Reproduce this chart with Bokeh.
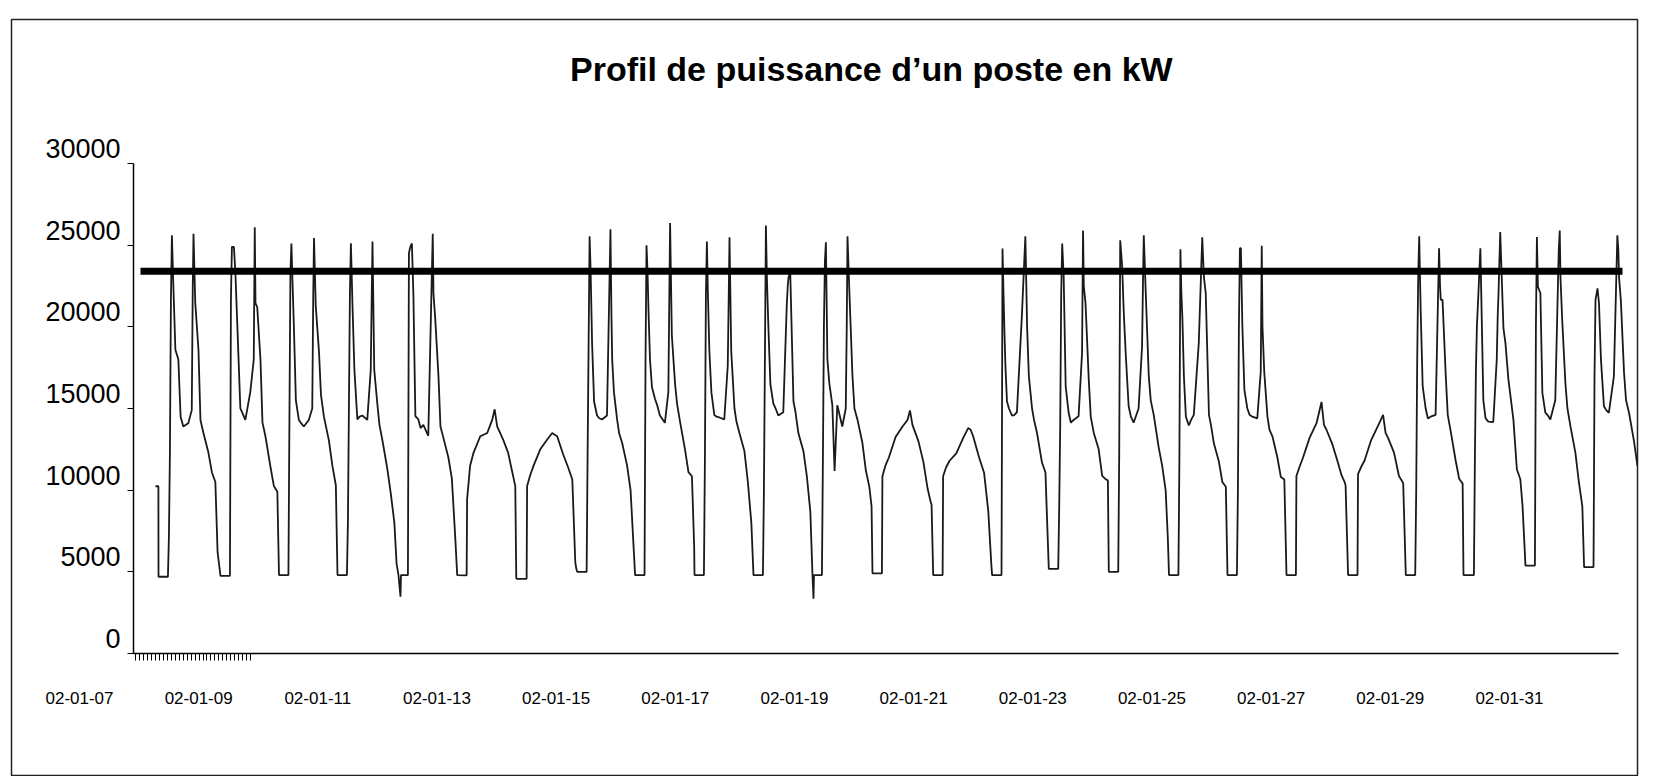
from bokeh.plotting import figure
from bokeh.models import Range1d, LinearAxis, FixedTicker, Label
from bokeh.embed import file_html
from bokeh.resources import INLINE

# ---------------- texts / ticks ----------------
title_text = "Profil de puissance d\u2019un poste en kW"
x_tick_days = [0, 2, 4, 6, 8, 10, 12, 14, 16, 18, 20, 22, 24]   # days after 02-01-07 00:00
x_tick_labels = ["02-01-07", "02-01-09", "02-01-11", "02-01-13", "02-01-15", "02-01-17",
                 "02-01-19", "02-01-21", "02-01-23", "02-01-25", "02-01-27", "02-01-29", "02-01-31"]
y_ticks = [0, 5000, 10000, 15000, 20000, 25000, 30000]

# ---------------- threshold series (thick line) ----------------
seuil_days = [1.024, 25.898]
seuil_kw = [23400, 23400]

# ---------------- power profile (kW) ----------------
# first samples before the first night trough
pre_days = [1.2756, 1.3243]
pre_kw = [10240, 10240]

# short downward dips at the start of two night troughs
dip_days = [5.3877, 5.3960, 12.3196, 12.3280]
dip_kw = [3480, 4800, 3350, 4800]

# start of each day's night trough (days after 02-01-07 00:00, read on the axis)
day_start = [1.3260, 2.3666, 3.3484, 4.3303, 5.3541, 6.3394, 7.3464, 8.3535, 9.3253, 10.3223,
             11.3125, 12.3028, 13.3098, 14.3286, 15.3172, 16.2689, 17.2760, 18.2863, 19.2682,
             20.2585, 21.2924, 22.2609, 23.2293, 24.2699, 25.2535]
day_kind = ["wk", "wk", "wk", "wk", "wk", "we", "we",
            "wk", "wk", "wk", "wk", "wk", "we", "we",
            "wk", "wk", "wk", "wk", "wk", "we", "we",
            "wk", "wk", "wk", "wk"]

# hours after the trough start at which the values below are read
wk_hours = [0, 3.8, 4.2, 4.6, 5.0, 5.4, 6.0, 6.8, 8.0, 8.9, 10.0, 12.0, 13.4, 13.8, 14.1,
            14.8, 16.1, 16.9, 18.1, 20.1, 21.5, 22.9, 23.8]
we_hours = [0, 3.8, 4.0, 5.2, 6.6, 9.3, 12.1, 14.1, 15.1, 16.1, 18.5, 20.5, 22.2, 23.4, 23.8]

day01 = [4700, 4700, 7200, 12300, 21650, 25600, 22450, 18600, 18000, 14500, 13900, 14100, 14900, 22450, 25700, 21500, 18600, 14300, 13500, 12300, 11100, 10500, 6200]
day02 = [4750, 4750, 21650, 24900, 24900, 24900, 23300, 20000, 15000, 14700, 14300, 16000, 18000, 26100, 21450, 21200, 18000, 14150, 13300, 11450, 10250, 9900, 5100]
day03 = [4800, 4800, 14300, 23300, 25100, 23000, 20000, 15500, 14300, 14100, 13900, 14300, 15000, 22000, 25440, 21300, 18500, 15850, 14500, 13050, 11500, 10300, 9760]
day04 = [4800, 4800, 8000, 15000, 22000, 25120, 21500, 17400, 14330, 14500, 14570, 14300, 17380, 22000, 25220, 17380, 15200, 14000, 13050, 11280, 9760, 8020, 5500]
day05 = [4800, 4800, 24500, 24800, 25000, 25100, 22000, 14530, 14330, 13800, 14000, 13330, 23000, 25700, 22000, 20500, 17000, 13900, 13200, 12000, 10700, 7000, 5000]
day06 = [4800, 4780, 9450, 11500, 12300, 13300, 13500, 14300, 14950, 13900, 13100, 12300, 11100, 10250, 4600]
day07 = [4570, 4570, 10250, 10900, 11500, 12500, 13100, 13500, 13400, 13300, 12200, 11400, 10650, 5600, 5200]
day08 = [5000, 5000, 12300, 19000, 25550, 23500, 19000, 15430, 14570, 14400, 14330, 14570, 25980, 20670, 18000, 16000, 14300, 13480, 12900, 11500, 10000, 6000, 5000]
day09 = [4800, 4800, 18000, 25000, 23400, 21000, 18000, 16300, 15600, 15200, 14570, 14120, 16000, 22000, 26350, 19500, 16500, 15300, 14200, 12500, 11100, 10850, 6520]
day10 = [4800, 4800, 12000, 22000, 25220, 22000, 18500, 16000, 14600, 14500, 14450, 14330, 17620, 22000, 25490, 18500, 15000, 14200, 13500, 12400, 10500, 8000, 6000]
day11 = [4800, 4800, 10000, 18000, 26200, 23000, 20000, 16500, 15300, 15000, 14570, 14770, 21300, 22500, 23000, 23370, 15430, 14800, 13480, 12400, 10850, 8680, 8200]
day12 = [4800, 4800, 12000, 20000, 24000, 25180, 18000, 16520, 15200, 11180, 15200, 13900, 15000, 20000, 25550, 22390, 17000, 15000, 14330, 12900, 11200, 10200, 9000]
day13 = [4900, 4900, 10850, 11500, 12000, 13250, 13900, 14300, 14880, 14000, 13000, 11730, 10100, 9300, 9100]
day14 = [4800, 4800, 10850, 11400, 11800, 12250, 13200, 13800, 13700, 13300, 12000, 11070, 8700, 5500, 4900]
day15 = [4800, 4800, 24790, 22000, 19570, 17500, 15430, 15000, 14570, 14600, 14770, 20670, 25550, 22450, 20000, 17000, 15000, 14300, 13500, 11690, 11080, 5200, 5180]
day16 = [5180, 5180, 9000, 14000, 22000, 25100, 23070, 16360, 14740, 14130, 14300, 14530, 18400, 25900, 22500, 21440, 16770, 14500, 13520, 12500, 10870, 10670, 10600]
day17 = [5000, 5000, 12300, 25300, 24500, 23680, 21000, 18400, 15140, 14500, 14130, 15000, 18800, 23000, 25610, 22450, 17000, 15500, 14610, 12620, 11500, 10000, 7000]
day18 = [4800, 4800, 12000, 24750, 22000, 20550, 17000, 14500, 13960, 14300, 14610, 19000, 25480, 24000, 23000, 22070, 14610, 14000, 12850, 11750, 10500, 10210, 6000]
day19 = [4800, 4800, 10000, 20000, 24810, 24810, 20000, 16160, 15000, 14610, 14500, 14390, 17260, 24970, 20000, 17260, 14500, 13710, 13300, 12000, 10800, 10650, 10600]
day20 = [4800, 4800, 10870, 11400, 11970, 13200, 14100, 15400, 14000, 13700, 12800, 11800, 10900, 10500, 10300]
day21 = [4800, 4800, 10980, 11400, 11800, 13070, 13950, 14610, 13510, 13200, 12300, 10870, 10430, 4800, 4800]
day22 = [4800, 4800, 10000, 18000, 23000, 25550, 21000, 16370, 15000, 14390, 14500, 14610, 24810, 22500, 21650, 21650, 17000, 14610, 13600, 11800, 10700, 10400, 5500]
day23 = [4800, 4800, 4800, 12000, 17260, 20000, 22000, 24810, 15490, 14390, 14200, 14170, 18000, 20750, 22000, 25810, 19900, 19000, 16770, 14330, 11280, 10670, 9000]
day24 = [5380, 5380, 20000, 25500, 22450, 22300, 22070, 15960, 14740, 14600, 14330, 15500, 24700, 25900, 23000, 20400, 16500, 15000, 13920, 12300, 10500, 9000, 5300]
day25 = [5290, 5290, 17000, 21650, 22000, 22360, 21460, 17990, 15140, 14900, 14740, 16970, 25610, 24700, 23000, 21650, 17180, 15500, 14740, 13000, 11480]

days_kw = [day01, day02, day03, day04, day05, day06, day07, day08, day09, day10, day11, day12, day13,
           day14, day15, day16, day17, day18, day19, day20, day21, day22, day23, day24, day25]

# assemble the series in time order
pts = list(zip(pre_days, pre_kw)) + list(zip(dip_days, dip_kw))
for k, (start, kw) in enumerate(zip(day_start, days_kw)):
    hours = wk_hours if day_kind[k] == "wk" else we_hours
    nxt = day_start[k + 1] if k + 1 < len(day_start) else None
    for h, v in zip(hours, kw):
        x = start + h / 24.0
        if nxt is not None and x >= nxt:
            break
        pts.append((x, v))
pts.sort(key=lambda q: q[0])
xs = [q[0] for q in pts]
ys = [q[1] for q in pts]

# ---------------- figure ----------------
x_lo, x_hi = -1.1413, 26.150
y_lo, y_hi = -7531, 38816
label_shift = 918           # printed tick labels sit slightly above their ticks
yaxis_at = 0.9063           # x position of the value axis
xaxis_end = 25.83

p = figure(width=1652, height=776, x_range=Range1d(x_lo, x_hi), y_range=Range1d(y_lo, y_hi),
           output_backend="svg", toolbar_location=None, title=None,
           min_border_left=11, min_border_right=15, min_border_top=19, min_border_bottom=0)
p.grid.visible = False
p.background_fill_color = "white"
p.border_fill_color = "white"
p.outline_line_color = "#222222"
p.outline_line_width = 1.5

# bottom axis line (with the dense category marks at its start)
band_start, band_end, band_step = 0.94, 2.92, 1.0 / 15
band = []
t = band_start
while t <= band_end:
    band.append(round(t, 4))
    t += band_step
xa = p.xaxis[0]
xa.fixed_location = 0
xa.bounds = (yaxis_at, xaxis_end)
xa.ticker = FixedTicker(ticks=[], minor_ticks=band)
xa.axis_line_color = "black"
xa.axis_line_width = 1.5
xa.minor_tick_in = 0
xa.minor_tick_out = 7
xa.minor_tick_line_color = "black"
xa.major_tick_line_color = None

# date labels
xl = LinearAxis(fixed_location=0, ticker=FixedTicker(ticks=x_tick_days),
                major_label_overrides={d: s for d, s in zip(x_tick_days, x_tick_labels)},
                axis_line_color=None, major_tick_line_color=None, minor_tick_line_color=None,
                major_tick_in=0, major_tick_out=0, major_label_standoff=39,
                major_label_text_font="Liberation Sans",
                major_label_text_font_size="17px", major_label_text_color="black")
p.add_layout(xl, "below")

# value axis line and ticks
ya = p.yaxis[0]
ya.fixed_location = yaxis_at
ya.bounds = (0, 30000)
ya.ticker = FixedTicker(ticks=y_ticks)
ya.axis_line_color = "black"
ya.axis_line_width = 1.5
ya.major_tick_in = 0
ya.major_tick_out = 6
ya.major_tick_line_color = "black"
ya.minor_tick_line_color = None
ya.major_label_text_color = None

# value labels
p.extra_y_ranges = {"ylab": Range1d(y_lo - label_shift, y_hi - label_shift)}
yl = LinearAxis(y_range_name="ylab", fixed_location=yaxis_at, ticker=FixedTicker(ticks=y_ticks),
                axis_line_color=None, major_tick_in=0, major_tick_out=0,
                major_tick_line_color=None, minor_tick_line_color=None,
                major_label_standoff=13, major_label_text_font="Liberation Sans",
                major_label_text_font_size="27px", major_label_text_color="black")
p.add_layout(yl, "left")

# data
p.line(xs, ys, line_color="#1a1a1a", line_width=1.8)
p.line(seuil_days, seuil_kw, line_color="black", line_width=7)

# title
p.add_layout(Label(x=13.29, y=35755, text=title_text, text_align="center", text_baseline="middle",
                   text_font="Liberation Sans", text_font_size="34px", text_font_style="bold",
                   text_color="black"))

open("out.html", "w", encoding="utf-8").write(file_html(p, INLINE))
